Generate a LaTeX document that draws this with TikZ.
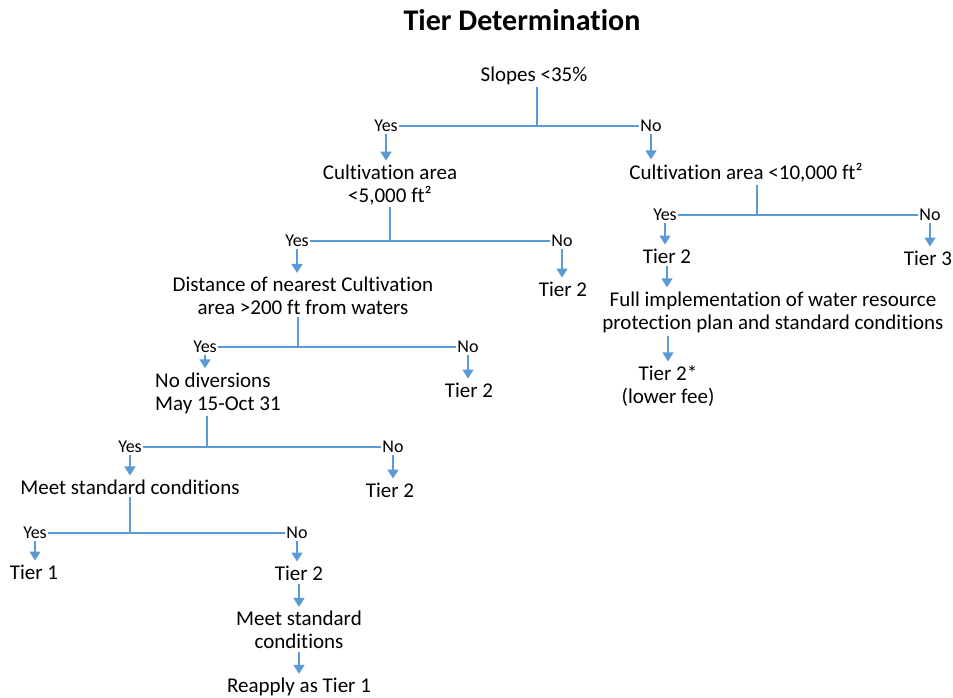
\documentclass[tikz,border=0pt]{standalone}
\usepackage{fontspec}
\setmainfont{Carlito}[Ligatures=NoCommon]
\usetikzlibrary{arrows.meta}
\definecolor{tdBlue}{HTML}{5B9BD5}
\tikzset{
  tdtitle/.style={font=\bfseries\fontsize{30}{34}\selectfont, inner sep=0pt},
  tdtext/.style={font=\fontsize{21}{23}\selectfont, align=center, inner sep=2pt},
  tdans/.style={font=\fontsize{18}{20}\selectfont, inner sep=1pt},
  tdline/.style={draw=tdBlue, line width=1.6pt},
  tdarrow/.style={-{Triangle[width=11pt,length=9pt]}, draw=tdBlue, line width=1.6pt,
    shorten >=2pt, shorten <=1pt}
}
\begin{document}
\begin{tikzpicture}[x=1pt,y=-1pt]
  \useasboundingbox (0,0) rectangle (953,698);
  \node[tdtitle] (title) at (522,20) {Tier Determination};

  % slopes
  \node[tdtext] (slopes) at (534,76) {Slopes <35\%};
  \coordinate (j1) at (537,127);
  \node[tdans] (y1) at (386,126) {Yes};
  \node[tdans] (n1) at (651,126) {No};
  \draw[tdline] (slopes.south -| j1) -- (j1);
  \draw[tdline] (y1.east) -- (n1.west);

  % left branch
  \node[tdtext] (ca5) at (390,185) {Cultivation area\\<5,000 ft²};
  \coordinate (j2) at (390,241);
  \node[tdans] (y2) at (297,241) {Yes};
  \node[tdans] (n2) at (562,241) {No};
  \node[tdtext] (t2a) at (563,289) {Tier 2};
  \draw[tdarrow] (y1.south) -- (y1.south |- ca5.north);
  \draw[tdline] (ca5.south -| j2) -- (j2);
  \draw[tdline] (y2.east) -- (n2.west);
  \draw[tdarrow] (n2.south) -- (n2.south |- t2a.north);

  \node[tdtext] (dist) at (303,296) {Distance of nearest Cultivation\\area >200 ft from waters};
  \coordinate (j3) at (298,347);
  \node[tdans] (y3) at (205,347) {Yes};
  \node[tdans] (n3) at (468,347) {No};
  \node[tdtext] (t2b) at (469,390) {Tier 2};
  \draw[tdarrow] (y2.south) -- (y2.south |- dist.north);
  \draw[tdline] (dist.south -| j3) -- (j3);
  \draw[tdline] (y3.east) -- (n3.west);
  \draw[tdarrow] (n3.south) -- (n3.south |- t2b.north);

  \node[tdtext, align=left, anchor=west] (div) at (153,393) {No diversions\\May 15-Oct 31};
  \coordinate (j4) at (207,447);
  \node[tdans] (y4) at (130,447) {Yes};
  \node[tdans] (n4) at (393,447) {No};
  \node[tdtext] (t2c) at (390,490) {Tier 2};
  \draw[tdarrow] (y3.south) -- (y3.south |- div.north);
  \draw[tdline] (div.south -| j4) -- (j4);
  \draw[tdline] (y4.east) -- (n4.west);
  \draw[tdarrow] (n4.south) -- (n4.south |- t2c.north);

  \node[tdtext] (msc) at (130,487) {Meet standard conditions};
  \coordinate (j5) at (130,533);
  \node[tdans] (y5) at (35,533) {Yes};
  \node[tdans] (n5) at (297,533) {No};
  \node[tdtext] (t1) at (34,572) {Tier 1};
  \node[tdtext] (t2d) at (299,573) {Tier 2};
  \draw[tdarrow] (y4.south) -- (y4.south |- msc.north);
  \draw[tdline] (msc.south -| j5) -- (j5);
  \draw[tdline] (y5.east) -- (n5.west);
  \draw[tdarrow] (y5.south) -- (y5.south |- t1.north);
  \draw[tdarrow] (n5.south) -- (n5.south |- t2d.north);

  \node[tdtext] (msc2) at (299,630) {Meet standard\\conditions};
  \node[tdtext] (reap) at (299,687) {Reapply as Tier 1};
  \draw[tdarrow] (t2d.south) -- (msc2.north);
  \draw[tdarrow] (msc2.south) -- (reap.north);

  % right branch
  \node[tdtext] (ca10) at (746,173) {Cultivation area <10,000 ft²};
  \coordinate (j6) at (757,214);
  \node[tdans] (y6) at (665,215) {Yes};
  \node[tdans] (n6) at (930,215) {No};
  \node[tdtext] (t2e) at (667,256) {Tier 2};
  \node[tdtext] (t3) at (928,258) {Tier 3};
  \draw[tdarrow] (n1.south) -- (n1.south |- ca10.north);
  \draw[tdline] (ca10.south -| j6) -- (j6);
  \draw[tdline] (y6.east) -- (n6.west);
  \draw[tdarrow] (y6.south) -- (y6.south |- t2e.north);
  \draw[tdarrow] (n6.south) -- (n6.south |- t3.north);

  \node[tdtext] (full) at (773,312) {Full implementation of water resource\\protection plan and standard conditions};
  \node[tdtext] (t2s) at (668,386) {Tier 2*\\(lower fee)};
  \draw[tdarrow] (t2e.south) -- (t2e.south |- full.north);
  \draw[tdarrow] (t2s.north |- full.south) -- (t2s.north);
\end{tikzpicture}
\end{document}
